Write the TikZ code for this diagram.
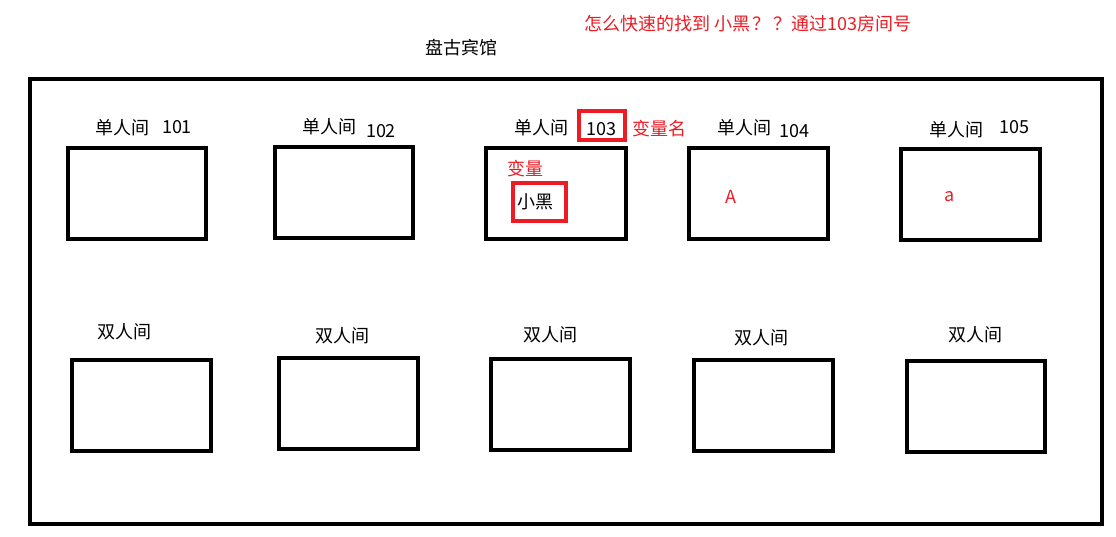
\documentclass[tikz,border=0pt]{standalone}
\usepackage{fontspec}
\setmainfont{Noto Sans CJK SC}
\definecolor{myred}{RGB}{237,28,36}
\begin{document}
\begin{tikzpicture}[x=1pt,y=-1pt,
  room/.style={draw=black,line width=4.8pt},
  redbox/.style={draw=myred,line width=4pt},
  lbl/.style={font=\fontsize{18}{20}\selectfont,inner sep=0pt,anchor=center},
  rlbl/.style={lbl,text=myred}]
\useasboundingbox (0,0) rectangle (1116,537);
\draw[line width=4.8pt] (30,79) rectangle (1102,524);
% top rooms
\draw[room] (68,148) rectangle (206,239);
\draw[room] (275,147) rectangle (413,238);
\draw[room] (486,148) rectangle (626,239);
\draw[room] (689,148) rectangle (828,239);
\draw[room] (901,149) rectangle (1040,240);
% bottom rooms
\draw[room] (72,360) rectangle (211,451);
\draw[room] (279,358) rectangle (418,449);
\draw[room] (491,359) rectangle (630,450);
\draw[room] (694,360) rectangle (833,451);
\draw[room] (907,361) rectangle (1045,452);
% red boxes
\draw[redbox] (579,111) rectangle (625,140);
\draw[redbox] (513,183) rectangle (566,221);
% labels
\node[lbl] (t0) at (461,48) {盘古宾馆};
\node[rlbl] (t1) at (748,24) {怎么快速的找到 小黑\hspace{2pt}？\hspace{3pt}？通过103房间号};
\node[lbl] (a1) at (122,128) {单人间};
\node[lbl] (n1) at (177,127) {101};
\node[lbl] (a2) at (329,127) {单人间};
\node[lbl] (n2) at (381,131) {102};
\node[lbl] (a3) at (541,128) {单人间};
\node[lbl] (n3) at (601,129) {103};
\node[rlbl] (v1) at (659,129) {变量名};
\node[lbl] (a4) at (744,128) {单人间};
\node[lbl] (n4) at (794,131) {104};
\node[lbl] (a5) at (956,130) {单人间};
\node[lbl] (n5) at (1014,127) {105};
\node[rlbl] (v2) at (525,169) {变量};
\node[lbl] (x1) at (535,202) {小黑};
\node[rlbl] (x2) at (731,197) {A};
\node[rlbl] (x3) at (950,197) {a};
\node[lbl] (b1) at (124,332) {双人间};
\node[lbl] (b2) at (342,336) {双人间};
\node[lbl] (b3) at (550,335) {双人间};
\node[lbl] (b4) at (761,338) {双人间};
\node[lbl] (b5) at (975,335) {双人间};
\end{tikzpicture}
\end{document}
